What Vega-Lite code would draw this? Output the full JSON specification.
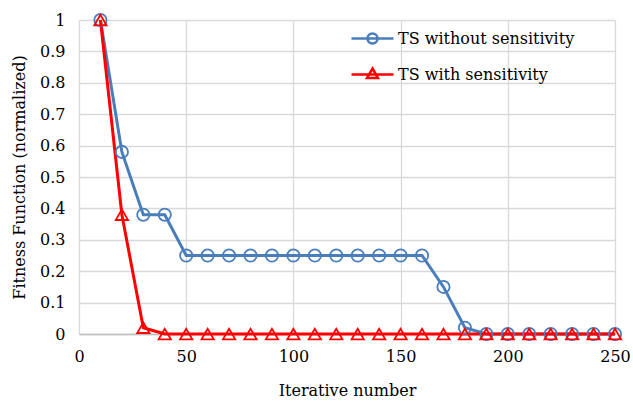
{
  "$schema": "https://vega.github.io/schema/vega-lite/v6.json",
  "width": 536,
  "height": 314,
  "autosize": {"type": "none"},
  "padding": {"left": 79, "top": 20, "right": 18, "bottom": 71},
  "background": "white",
  "config": {
    "view": {"stroke": null},
    "font": "DejaVu Serif",
    "axis": {
      "labelFont": "DejaVu Serif",
      "titleFont": "DejaVu Serif",
      "labelFontSize": 16,
      "titleFontSize": 16,
      "labelColor": "#000000",
      "titleColor": "#000000",
      "titleFontWeight": "normal",
      "gridColor": "#d9d9d9",
      "gridWidth": 1.3,
      "ticks": false,
      "labelFlush": false,
      "labelOverlap": false
    }
  },
  "data": {
    "values": [
      {"series": "TS without sensitivity", "x": 10, "y": 1},
      {"series": "TS without sensitivity", "x": 20, "y": 0.58},
      {"series": "TS without sensitivity", "x": 30, "y": 0.38},
      {"series": "TS without sensitivity", "x": 40, "y": 0.38},
      {"series": "TS without sensitivity", "x": 50, "y": 0.25},
      {"series": "TS without sensitivity", "x": 60, "y": 0.25},
      {"series": "TS without sensitivity", "x": 70, "y": 0.25},
      {"series": "TS without sensitivity", "x": 80, "y": 0.25},
      {"series": "TS without sensitivity", "x": 90, "y": 0.25},
      {"series": "TS without sensitivity", "x": 100, "y": 0.25},
      {"series": "TS without sensitivity", "x": 110, "y": 0.25},
      {"series": "TS without sensitivity", "x": 120, "y": 0.25},
      {"series": "TS without sensitivity", "x": 130, "y": 0.25},
      {"series": "TS without sensitivity", "x": 140, "y": 0.25},
      {"series": "TS without sensitivity", "x": 150, "y": 0.25},
      {"series": "TS without sensitivity", "x": 160, "y": 0.25},
      {"series": "TS without sensitivity", "x": 170, "y": 0.15},
      {"series": "TS without sensitivity", "x": 180, "y": 0.02},
      {"series": "TS without sensitivity", "x": 190, "y": 0},
      {"series": "TS without sensitivity", "x": 200, "y": 0},
      {"series": "TS without sensitivity", "x": 210, "y": 0},
      {"series": "TS without sensitivity", "x": 220, "y": 0},
      {"series": "TS without sensitivity", "x": 230, "y": 0},
      {"series": "TS without sensitivity", "x": 240, "y": 0},
      {"series": "TS without sensitivity", "x": 250, "y": 0},
      {"series": "TS with sensitivity", "x": 10, "y": 1},
      {"series": "TS with sensitivity", "x": 20, "y": 0.38},
      {"series": "TS with sensitivity", "x": 30, "y": 0.02},
      {"series": "TS with sensitivity", "x": 40, "y": 0},
      {"series": "TS with sensitivity", "x": 50, "y": 0},
      {"series": "TS with sensitivity", "x": 60, "y": 0},
      {"series": "TS with sensitivity", "x": 70, "y": 0},
      {"series": "TS with sensitivity", "x": 80, "y": 0},
      {"series": "TS with sensitivity", "x": 90, "y": 0},
      {"series": "TS with sensitivity", "x": 100, "y": 0},
      {"series": "TS with sensitivity", "x": 110, "y": 0},
      {"series": "TS with sensitivity", "x": 120, "y": 0},
      {"series": "TS with sensitivity", "x": 130, "y": 0},
      {"series": "TS with sensitivity", "x": 140, "y": 0},
      {"series": "TS with sensitivity", "x": 150, "y": 0},
      {"series": "TS with sensitivity", "x": 160, "y": 0},
      {"series": "TS with sensitivity", "x": 170, "y": 0},
      {"series": "TS with sensitivity", "x": 180, "y": 0},
      {"series": "TS with sensitivity", "x": 190, "y": 0},
      {"series": "TS with sensitivity", "x": 200, "y": 0},
      {"series": "TS with sensitivity", "x": 210, "y": 0},
      {"series": "TS with sensitivity", "x": 220, "y": 0},
      {"series": "TS with sensitivity", "x": 230, "y": 0},
      {"series": "TS with sensitivity", "x": 240, "y": 0},
      {"series": "TS with sensitivity", "x": 250, "y": 0}
    ]
  },
  "encoding": {
    "x": {
      "field": "x",
      "type": "quantitative",
      "scale": {"domain": [0, 250], "nice": false},
      "axis": {
        "title": "Iterative number",
        "values": [0, 50, 100, 150, 200, 250],
        "labelPadding": 14,
        "titlePadding": 18,
        "domainColor": "#bfbfbf",
        "domainWidth": 1.5
      }
    },
    "y": {
      "field": "y",
      "type": "quantitative",
      "scale": {"domain": [0, 1], "nice": false},
      "axis": {
        "title": "Fitness Function (normalized)",
        "values": [0, 0.1, 0.2, 0.3, 0.4, 0.5, 0.6, 0.7, 0.8, 0.9, 1],
        "labelExpr": "datum.value == 0 ? '0' : datum.value == 1 ? '1' : format(datum.value, '.1f')",
        "labelPadding": 14,
        "titlePadding": 12,
        "domain": false
      }
    },
    "color": {
      "field": "series",
      "type": "nominal",
      "scale": {
        "domain": ["TS without sensitivity", "TS with sensitivity"],
        "range": ["#4a7ebb", "#ff0000"]
      }
    }
  },
  "layer": [
    {
      "mark": {"type": "line", "strokeWidth": 3},
      "encoding": {
        "color": {
          "field": "series",
          "type": "nominal",
          "scale": {
            "domain": ["TS without sensitivity", "TS with sensitivity"],
            "range": ["#4a7ebb", "#ff0000"]
          },
          "legend": {
            "title": null,
            "orient": "none",
            "legendX": 282,
            "legendY": 7,
            "labelFont": "DejaVu Serif",
            "labelFontSize": 16,
            "labelColor": "#000000",
            "labelOffset": 14,
            "labelLimit": 400,
            "rowPadding": 14,
            "symbolSize": 400,
            "symbolStrokeWidth": 2.5,
            "encode": {
              "symbols": {
                "update": {
                  "shape": {"signal": "datum.value === 'TS without sensitivity' ? 'M-2.1,0H2.1M0.5,0A0.5,0.5 0 1 1 -0.5,0A0.5,0.5 0 1 1 0.5,0' : 'M-2.1,0H2.1M0,-0.6L0.55,0.35L-0.55,0.35Z'"},
                  "fill": {"value": "white"},
                  "fillOpacity": {"value": 1}
                }
              }
            }
          }
        }
      }
    },
    {
      "mark": {"type": "point", "filled": false, "strokeWidth": 1.8, "fill": "white", "fillOpacity": 0},
      "encoding": {
        "shape": {
          "condition": {"test": "datum.series === 'TS with sensitivity'", "value": "triangle-up"},
          "value": "circle"
        },
        "size": {"value": 150},
        "color": {"field": "series", "type": "nominal", "legend": null}
      }
    }
  ]
}
